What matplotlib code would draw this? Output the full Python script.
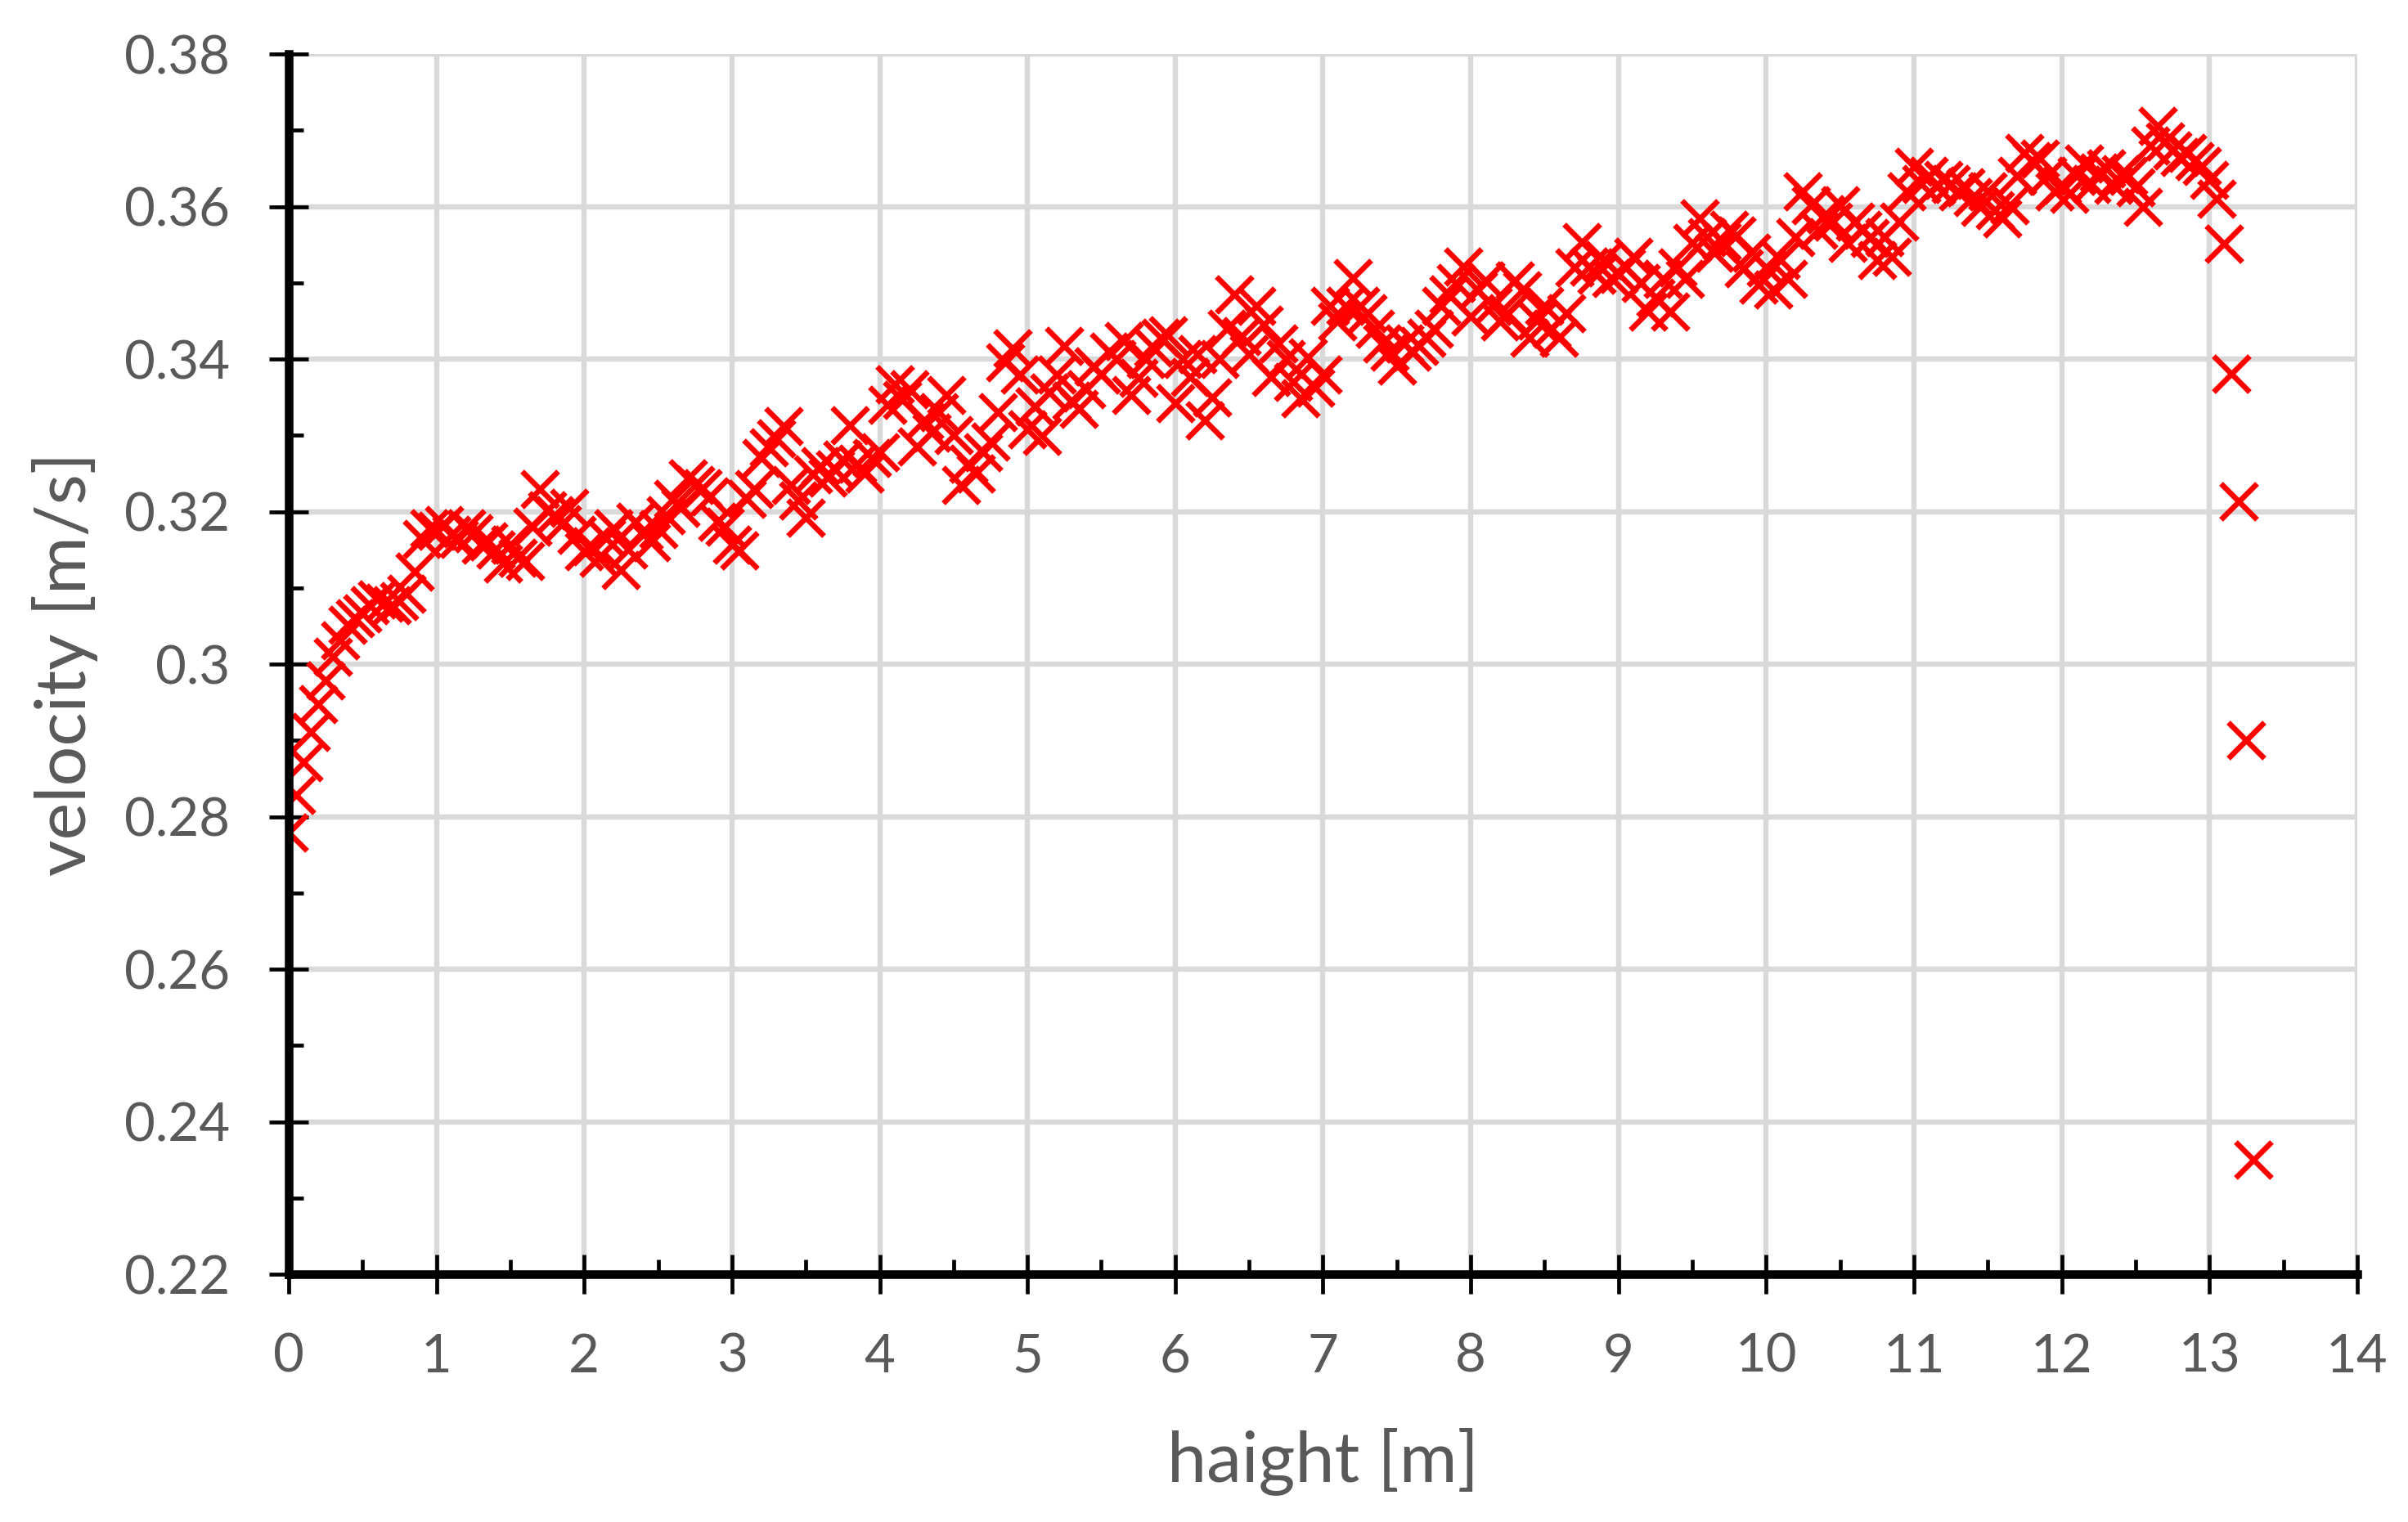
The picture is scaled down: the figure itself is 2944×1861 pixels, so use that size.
import matplotlib
matplotlib.use("Agg")
import matplotlib.pyplot as plt
from matplotlib.ticker import MultipleLocator, FuncFormatter

# height [m] sampled every ~5 cm along the run
height = [
    0.00, 0.05, 0.10, 0.15, 0.20, 0.25, 0.30, 0.35, 0.40, 0.45,
    0.50, 0.55, 0.60, 0.65, 0.70, 0.75, 0.80, 0.85, 0.90, 0.95,
    1.00, 1.05, 1.10, 1.15, 1.20, 1.25, 1.30, 1.35, 1.40, 1.45,
    1.50, 1.55, 1.60, 1.65, 1.70, 1.75, 1.80, 1.85, 1.90, 1.95,
    2.00, 2.05, 2.10, 2.15, 2.20, 2.25, 2.30, 2.35, 2.40, 2.45,
    2.50, 2.55, 2.60, 2.65, 2.70, 2.75, 2.80, 2.85, 2.90, 2.95,
    3.00, 3.05, 3.10, 3.15, 3.20, 3.25, 3.30, 3.35, 3.40, 3.45,
    3.50, 3.55, 3.60, 3.65, 3.70, 3.75, 3.80, 3.85, 3.90, 3.95,
    4.00, 4.05, 4.10, 4.15, 4.20, 4.25, 4.30, 4.35, 4.40, 4.45,
    4.50, 4.55, 4.60, 4.65, 4.70, 4.75, 4.80, 4.85, 4.90, 4.95,
    5.00, 5.05, 5.10, 5.15, 5.20, 5.25, 5.30, 5.35, 5.40, 5.45,
    5.50, 5.55, 5.60, 5.65, 5.70, 5.75, 5.80, 5.85, 5.90, 5.95,
    6.00, 6.05, 6.10, 6.15, 6.20, 6.25, 6.30, 6.35, 6.40, 6.45,
    6.50, 6.55, 6.60, 6.65, 6.70, 6.75, 6.80, 6.85, 6.90, 6.95,
    7.00, 7.05, 7.10, 7.15, 7.20, 7.25, 7.30, 7.35, 7.40, 7.45,
    7.50, 7.55, 7.60, 7.65, 7.70, 7.75, 7.80, 7.85, 7.90, 7.95,
    8.00, 8.05, 8.10, 8.15, 8.20, 8.25, 8.30, 8.35, 8.40, 8.45,
    8.50, 8.55, 8.60, 8.65, 8.70, 8.75, 8.80, 8.85, 8.90, 8.95,
    9.00, 9.05, 9.10, 9.15, 9.20, 9.25, 9.30, 9.35, 9.40, 9.45,
    9.50, 9.55, 9.60, 9.65, 9.70, 9.75, 9.80, 9.85, 9.90, 9.95,
    10.00, 10.05, 10.10, 10.15, 10.20, 10.25, 10.30, 10.35, 10.40, 10.45,
    10.50, 10.55, 10.60, 10.65, 10.70, 10.75, 10.80, 10.85, 10.90, 10.95,
    11.00, 11.05, 11.10, 11.15, 11.20, 11.25, 11.30, 11.35, 11.40, 11.45,
    11.50, 11.55, 11.60, 11.65, 11.70, 11.75, 11.80, 11.85, 11.90, 11.95,
    12.00, 12.05, 12.10, 12.15, 12.20, 12.25, 12.30, 12.35, 12.40, 12.45,
    12.50, 12.55, 12.60, 12.65, 12.70, 12.75, 12.80, 12.85, 12.90, 12.95,
    13.00, 13.05, 13.10, 13.15, 13.20, 13.25, 13.30,
]

# velocity [m/s]
velocity = [
    0.2779, 0.2829, 0.2871, 0.2911, 0.2947, 0.2979, 0.3010, 0.3031, 0.3052, 0.3060,
    0.3067, 0.3077, 0.3085, 0.3081, 0.3077, 0.3083, 0.3092, 0.3121, 0.3164, 0.3178,
    0.3175, 0.3182, 0.3170, 0.3164, 0.3178, 0.3172, 0.3157, 0.3161, 0.3150, 0.3132,
    0.3157, 0.3140, 0.3135, 0.3180, 0.3230, 0.3202, 0.3195, 0.3183, 0.3205, 0.3170,
    0.3148, 0.3155, 0.3140, 0.3165, 0.3178, 0.3123, 0.3150, 0.3187, 0.3175, 0.3160,
    0.3177, 0.3195, 0.3217, 0.3205, 0.3244, 0.3235, 0.3231, 0.3220, 0.3187, 0.3180,
    0.3157, 0.3149, 0.3217, 0.3230, 0.3270, 0.3284, 0.3296, 0.3312, 0.3235, 0.3215,
    0.3192, 0.3249, 0.3260, 0.3245, 0.3255, 0.3268, 0.3313, 0.3263, 0.3250, 0.3270,
    0.3278, 0.3340, 0.3367, 0.3346, 0.3360, 0.3285, 0.3320, 0.3304, 0.3330, 0.3353,
    0.3300, 0.3235, 0.3263, 0.3250, 0.3278, 0.3292, 0.3330, 0.3396, 0.3414, 0.3380,
    0.3308, 0.3338, 0.3299, 0.3356, 0.3380, 0.3417, 0.3345, 0.3335, 0.3360, 0.3390,
    0.3380, 0.3410, 0.3400, 0.3424, 0.3353, 0.3375, 0.3400, 0.3415, 0.3428, 0.3431,
    0.3342, 0.3400, 0.3377, 0.3406, 0.3320, 0.3350, 0.3400, 0.3440, 0.3485, 0.3430,
    0.3406, 0.3470, 0.3445, 0.3377, 0.3420, 0.3400, 0.3370, 0.3349, 0.3402, 0.3363,
    0.3380, 0.3470, 0.3449, 0.3470, 0.3506, 0.3470, 0.3460, 0.3440, 0.3420, 0.3410,
    0.3392, 0.3420, 0.3410, 0.3417, 0.3428, 0.3440, 0.3470, 0.3485, 0.3500, 0.3521,
    0.3456, 0.3490, 0.3503, 0.3470, 0.3449, 0.3460, 0.3503, 0.3490, 0.3428, 0.3450,
    0.3470, 0.3440, 0.3428, 0.3460, 0.3520, 0.3553, 0.3521, 0.3510, 0.3530, 0.3506,
    0.3512, 0.3520, 0.3534, 0.3500, 0.3462, 0.3480, 0.3505, 0.3462, 0.3520, 0.3505,
    0.3552, 0.3584, 0.3560, 0.3540, 0.3555, 0.3570, 0.3562, 0.3519, 0.3540, 0.3498,
    0.3520, 0.3491, 0.3530, 0.3505, 0.3560, 0.3620, 0.3602, 0.3570, 0.3590, 0.3580,
    0.3602, 0.3552, 0.3580, 0.3570, 0.3559, 0.3530, 0.3560, 0.3534, 0.3580, 0.3620,
    0.3652, 0.3630, 0.3640, 0.3627, 0.3635, 0.3630, 0.3620, 0.3625, 0.3612, 0.3600,
    0.3620, 0.3595, 0.3584, 0.3602, 0.3640, 0.3670, 0.3660, 0.3663, 0.3640, 0.3620,
    0.3628, 0.3617, 0.3640, 0.3656, 0.3630, 0.3645, 0.3650, 0.3628, 0.3642, 0.3640,
    0.3625, 0.3599, 0.3680, 0.3706, 0.3685, 0.3674, 0.3665, 0.3670, 0.3660, 0.3653,
    0.3635, 0.3610, 0.3551, 0.3381, 0.3213, 0.2900, 0.2350,
]

x_ticks = list(range(0, 15))
y_ticks = [0.22, 0.24, 0.26, 0.28, 0.30, 0.32, 0.34, 0.36, 0.38]

text_grey = "#595959"
grid_grey = "#D9D9D9"

plt.rcParams["font.family"] = ["Lato", "DejaVu Sans"]

fig = plt.figure(figsize=(14.72, 9.305), dpi=200)
ax = fig.add_axes([0.1199, 0.1628, 0.859, 0.8017])

ax.plot(height, velocity, linestyle="none", marker="x", markersize=16,
        markeredgewidth=2.4, color="#FF0000", zorder=3)

ax.set_xlim(0, 14)
ax.set_ylim(0.22, 0.38)
ax.set_xticks(x_ticks)
ax.set_yticks(y_ticks)
ax.xaxis.set_minor_locator(MultipleLocator(0.5))
ax.yaxis.set_minor_locator(MultipleLocator(0.01))
ax.yaxis.set_major_formatter(FuncFormatter(lambda v, p: f"{v:g}"))

ax.grid(True, which="major", color=grid_grey, linewidth=2.3, zorder=0)
ax.set_axisbelow(True)

for side in ["top", "right"]:
    ax.spines[side].set_visible(False)
for side in ["left", "bottom"]:
    ax.spines[side].set_linewidth(3.8)
    ax.spines[side].set_color("black")
    ax.spines[side].set_zorder(4)

ax.tick_params(which="major", direction="inout", length=17.6, width=1.7,
               color="black", labelsize=23.5, labelcolor=text_grey)
ax.tick_params(axis="y", which="major", pad=17)
ax.tick_params(axis="x", which="major", pad=17)
ax.tick_params(which="minor", direction="in", length=6.5, width=1.7, color="black")

ax.set_xlabel("haight [m]", fontsize=31, color=text_grey)
ax.set_ylabel("velocity [m/s]", fontsize=31, color=text_grey)
ax.xaxis.label.set_va("center")
ax.yaxis.label.set_va("center")
ax.xaxis.set_label_coords(0.5, -0.153)
ax.yaxis.set_label_coords(-0.1083, 0.5)

fig.savefig("out.png", dpi=200)
